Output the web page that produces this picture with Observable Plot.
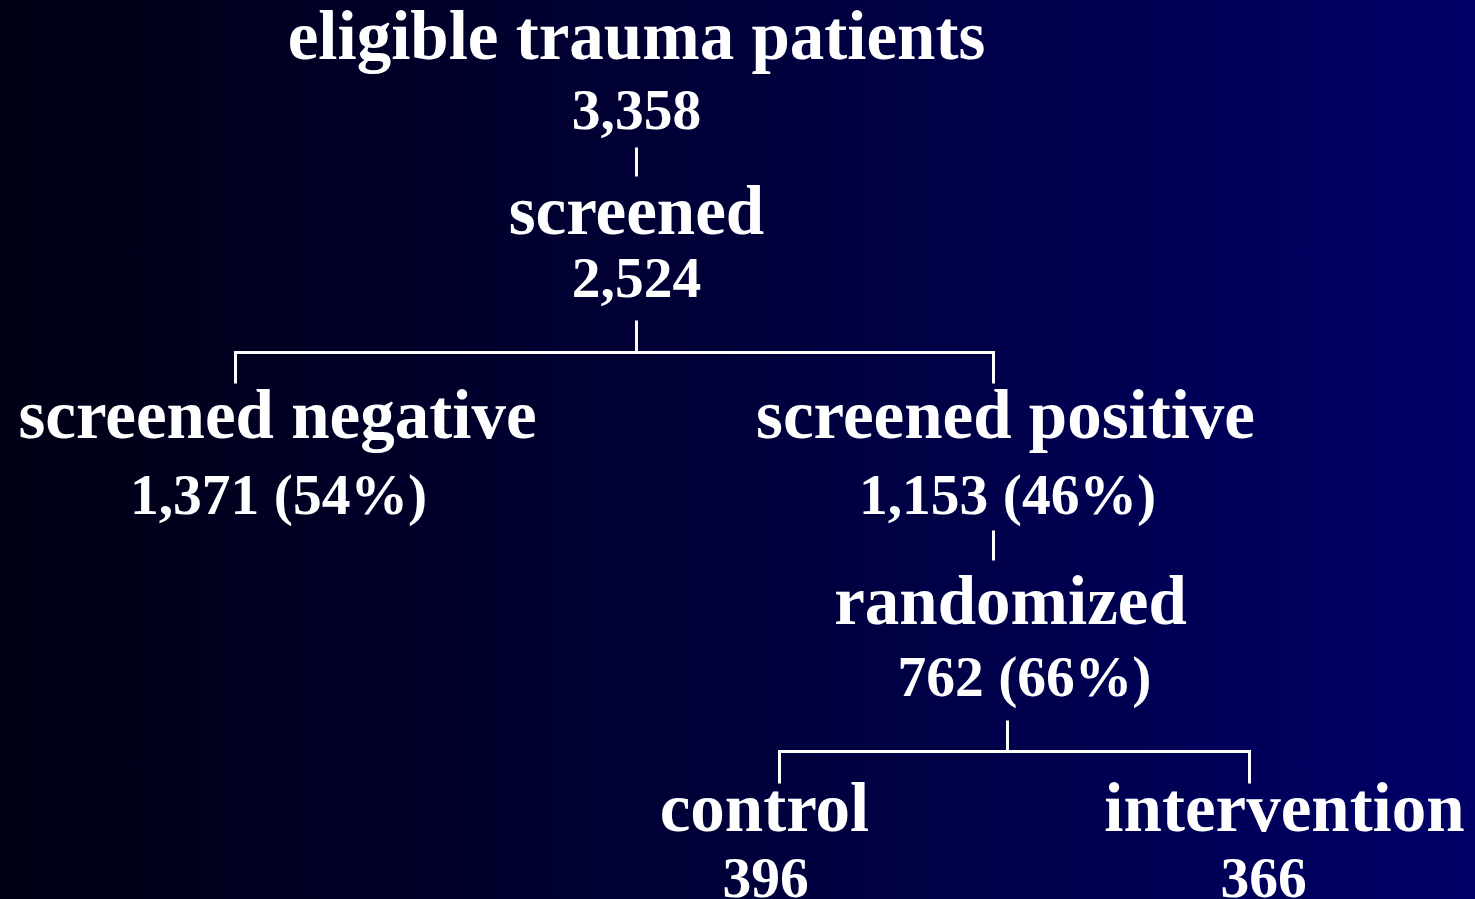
<!DOCTYPE html>
<html>
<head>
<meta charset="utf-8">
<script src="https://cdn.jsdelivr.net/npm/d3@7"></script>
<script src="https://cdn.jsdelivr.net/npm/@observablehq/plot@0.6"></script>
<style>
  html, body { margin: 0; padding: 0; background: #000030; overflow: hidden; }
  #chart svg { display: block; }
</style>
</head>
<body>
<div id="chart"></div>
<script>
// ---- data ----
const nodeNames = ["eligible trauma patients", "screened", "screened negative", "screened positive", "randomized", "control", "intervention"];
const nodeCounts = [3358, 2524, 1371, 1153, 762, 396, 366];
const nodePercents = [null, null, 54, 46, 66, null, null];
const nodeParents = [null, 0, 1, 1, 3, 4, 4];

// ---- layout (diagram geometry, in pixels) ----
const labelX = [636, 636, 277, 1005, 1010, 764, 1284];
const countX = [636, 636, 278, 1007, 1024, 765, 1263];
const labelBaseline = [58, 233, 437, 437, 623, 830, 830];
const countBaseline = [128, 296, 513, 513, 695, 896, 896];
const inX = [null, 636, 235, 993, 993, 779, 1249];
const inY = [null, 176, 383, 383, 560, 783, 783];
const outX = [636, 636, null, 993, 1007, null, null];
const outTop = [147, 320, null, 530, 720, null, null];
const barY = [null, 352, null, null, 751, null, null];

const W = 1475, H = 899;
const fmt = d3.format(",");

const texts = [];
nodeNames.forEach((name, i) => {
  texts.push({x: labelX[i], y: labelBaseline[i], text: name, size: 69});
  const c = fmt(nodeCounts[i]) + (nodePercents[i] != null ? ` (${nodePercents[i]}%)` : "");
  texts.push({x: countX[i], y: countBaseline[i], text: c, size: 57.5});
});

// connectors derived from the parent structure
const segs = [];
nodeNames.forEach((_, p) => {
  const kids = nodeParents.map((q, i) => q === p ? i : -1).filter(i => i >= 0);
  if (!kids.length) return;
  if (kids.length === 1) {
    segs.push({x1: outX[p], y1: outTop[p], x2: outX[p], y2: inY[kids[0]]});
  } else {
    segs.push({x1: outX[p], y1: outTop[p], x2: outX[p], y2: barY[p]});
    const xs = kids.map(k => inX[k]);
    segs.push({x1: d3.min(xs) - 1.5, y1: barY[p], x2: d3.max(xs) + 1.5, y2: barY[p]});
    kids.forEach(k => segs.push({x1: inX[k], y1: barY[p], x2: inX[k], y2: inY[k]}));
  }
});

const chart = Plot.plot({
  width: W,
  height: H,
  margin: 0,
  x: {domain: [0, W], range: [0, W], axis: null},
  y: {domain: [0, H], range: [0, H], axis: null},
  style: {
    background: "linear-gradient(to right, #000014 0%, #00003a 50%, #000068 100%)",
    fontFamily: "'Liberation Serif', 'Times New Roman', serif",
    color: "white"
  },
  marks: [
    Plot.link(segs, {x1: "x1", y1: "y1", x2: "x2", y2: "y2", stroke: "white", strokeWidth: 3, strokeLinecap: "butt"}),
    Plot.text(texts.filter(d => d.size > 60), {x: "x", y: "y", text: "text", fontSize: 69, fontWeight: "bold", fill: "white", textAnchor: "middle", lineAnchor: "bottom"}),
    Plot.text(texts.filter(d => d.size < 60), {x: "x", y: "y", text: "text", fontSize: 57.5, fontWeight: "bold", fill: "white", textAnchor: "middle", lineAnchor: "bottom"})
  ]
});
document.getElementById("chart").appendChild(chart);
</script>
</body>
</html>
